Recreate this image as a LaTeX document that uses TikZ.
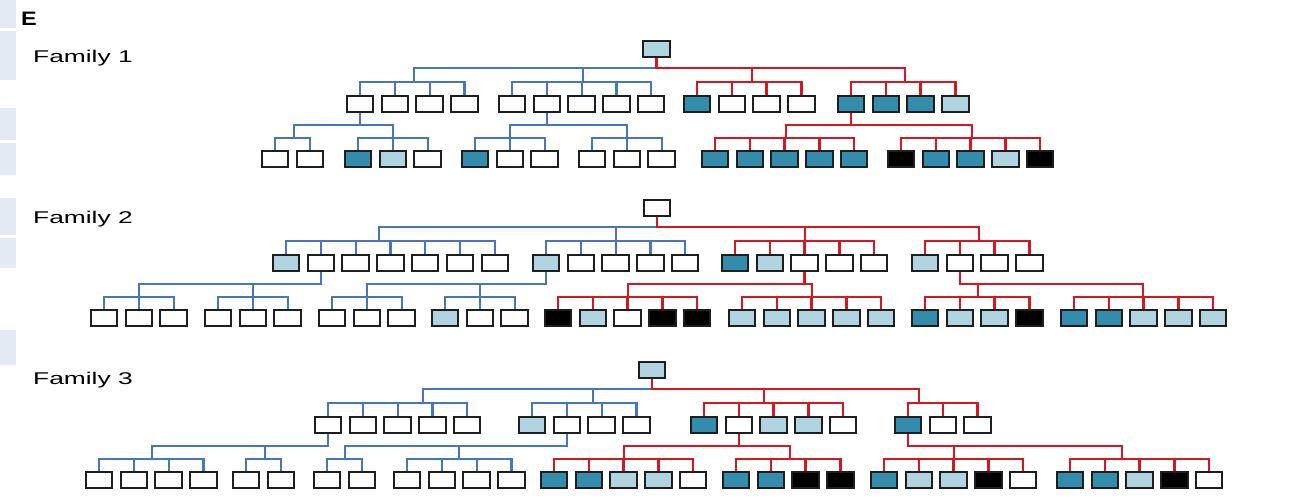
\documentclass[tikz,border=0pt]{standalone}
\usepackage{fontspec}
\setmainfont{Liberation Sans}
\definecolor{lb}{RGB}{176,212,224}
\definecolor{dt}{RGB}{52,140,172}
\definecolor{bline}{RGB}{72,118,188}
\definecolor{rline}{RGB}{214,22,32}
\definecolor{boxline}{RGB}{30,30,30}
\definecolor{artc}{RGB}{228,234,244}
\definecolor{cW}{RGB}{255,255,255}
\colorlet{cL}{lb}
\colorlet{cD}{dt}
\colorlet{cK}{black}
\tikzset{
  bx/.style={draw=boxline, line width=2pt, minimum width=26.5pt, minimum height=16.5pt, inner sep=0pt},
  bl/.style={draw=bline, line width=2.2pt},
  rd/.style={draw=rline, line width=2.4pt},
  lab/.style={font=\fontsize{17}{20}\selectfont, anchor=base west, inner sep=0pt}
}
% #1 name, #2 first centre x, #3 row y, #4 fills, #5 line style, #6 stem x, #7 bracket y, #8 upper line y, #9 parent
\newcommand\grp[9]{%
  \coordinate (#1br) at (#6,#7);
  \coordinate (#1top) at (#6,#8);
  \foreach \c [count=\i] in {#4}{%
    \node[bx,fill=\c] (#1\i) at ({#2+34.8*(\i-1)},#3) {};
    \draw[#5] (#1\i.north) |- (#1br);
  }%
  \draw[#5] (#9.south) |- (#1top) -- (#1br);
}
\begin{document}
\begin{tikzpicture}[x=1pt,y=-1pt]
\useasboundingbox (0,0) rectangle (1307,498);
\fill[white] (0,0) rectangle (1307,498);
% faint strips at the left edge
\foreach \a/\b in {0/28,31/80,108/140,143/175,198/235,238/268,330/365}{
  \fill[artc] (0,\a) rectangle (16,\b);
}
\node[font=\bfseries\fontsize{19.5}{22}\selectfont, anchor=base west, inner sep=0pt] (E) at (21,25) {\scalebox{1.2}[1]{E}};
\node[lab] (l1) at (33,62) {\scalebox{1.55}[1]{Family 1}};
\node[lab] (l2) at (33,223) {\scalebox{1.55}[1]{Family 2}};
\node[lab] (l3) at (33,384) {\scalebox{1.55}[1]{Family 3}};

% ---------------- Family 1 ----------------
\node[bx,fill=cL] (r1) at (656.5,49) {};
\grp{f1a}{360}{104}{cW,cW,cW,cW}{bl}{414}{82}{68}{r1}
\grp{f1b}{512}{104}{cW,cW,cW,cW,cW}{bl}{583}{82}{68}{r1}
\grp{f1c}{697}{104}{cD,cW,cW,cW}{rd}{752}{82}{68}{r1}
\grp{f1d}{851}{104}{cD,cD,cD,cL}{rd}{905}{82}{68}{r1}
\grp{f1e}{275}{159}{cW,cW}{bl}{294}{138}{125}{f1a1}
\grp{f1f}{358}{159}{cD,cL,cW}{bl}{393}{138}{125}{f1a1}
\grp{f1g}{475}{159}{cD,cW,cW}{bl}{510}{138}{125}{f1b2}
\grp{f1h}{592}{159}{cW,cW,cW}{bl}{627}{138}{125}{f1b2}
\grp{f1i}{715}{159}{cD,cD,cD,cD,cD}{rd}{786}{138}{125}{f1d1}
\grp{f1j}{901}{159}{cK,cD,cD,cL,cK}{rd}{972}{138}{125}{f1d1}

% ---------------- Family 2 ----------------
\node[bx,fill=cW] (r2) at (657,208) {};
\grp{f2a}{286}{263}{cL,cW,cW,cW,cW,cW,cW}{bl}{379}{241}{227}{r2}
\grp{f2b}{546}{263}{cL,cW,cW,cW,cW}{bl}{616}{241}{227}{r2}
\grp{f2c}{735}{263}{cD,cL,cW,cW,cW}{rd}{805}{241}{227}{r2}
\grp{f2d}{925}{263}{cL,cW,cW,cW}{rd}{979}{241}{227}{r2}
\grp{f2e}{104}{318}{cW,cW,cW}{bl}{139}{297}{284}{f2a2}
\grp{f2f}{218}{318}{cW,cW,cW}{bl}{253}{297}{284}{f2a2}
\grp{f2g}{332}{318}{cW,cW,cW}{bl}{367}{297}{284}{f2b1}
\grp{f2h}{445}{318}{cL,cW,cW}{bl}{480}{297}{284}{f2b1}
\grp{f2i}{558}{318}{cK,cL,cW,cK,cK}{rd}{628}{297}{284}{f2c3}
\grp{f2j}{742}{318}{cL,cL,cL,cL,cL}{rd}{812}{297}{284}{f2c3}
\grp{f2k}{925}{318}{cD,cL,cL,cK}{rd}{978}{297}{284}{f2d2}
\grp{f2l}{1074}{318}{cD,cD,cL,cL,cL}{rd}{1143}{297}{284}{f2d2}

% ---------------- Family 3 ----------------
\node[bx,fill=cL] (r3) at (652,370) {};
\grp{f3a}{328}{425}{cW,cW,cW,cW,cW}{bl}{423}{403}{389}{r3}
\grp{f3b}{532}{425}{cL,cW,cW,cW}{bl}{593}{403}{389}{r3}
\grp{f3c}{704}{425}{cD,cW,cL,cL,cW}{rd}{764}{403}{389}{r3}
\grp{f3d}{908}{425}{cD,cW,cW}{rd}{919}{403}{389}{r3}
\grp{f3e}{99}{480}{cW,cW,cW,cW}{bl}{152}{459}{446}{f3a1}
\grp{f3f}{246}{480}{cW,cW}{bl}{265}{459}{446}{f3a1}
\grp{f3g}{327}{480}{cW,cW}{bl}{345}{459}{446}{f3b2}
\grp{f3h}{407}{480}{cW,cW,cW,cW}{bl}{459}{459}{446}{f3b2}
\grp{f3i}{554}{480}{cD,cD,cL,cL,cW}{rd}{624}{459}{446}{f3c2}
\grp{f3j}{736}{480}{cD,cD,cK,cK}{rd}{790}{459}{446}{f3c2}
\grp{f3k}{884}{480}{cD,cL,cL,cK,cW}{rd}{954}{459}{446}{f3d1}
\grp{f3l}{1070}{480}{cD,cD,cL,cK,cW}{rd}{1122}{459}{446}{f3d1}
\end{tikzpicture}
\end{document}
